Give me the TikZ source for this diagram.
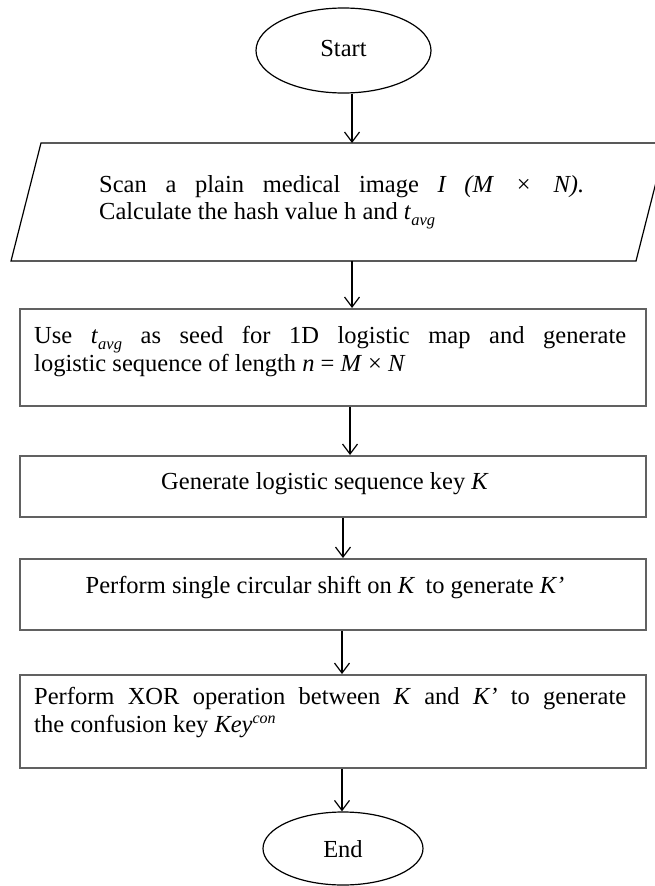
\documentclass[tikz,border=0pt]{standalone}
\usepackage{fontspec}
\setmainfont{Liberation Serif}
\usetikzlibrary{arrows.meta,shapes.geometric,calc}
\newcommand{\tavg}{\textit{t}\raisebox{-0.28em}{\fontsize{16.5}{16.5}\selectfont\textit{avg}}}
\newcommand{\keycon}{\textit{Key}\raisebox{0.36em}{\fontsize{16}{16}\selectfont\textit{con}}}
\tikzset{
  line/.style={draw=black,line width=1.2pt},
  boxline/.style={draw=black!62,line width=1.8pt},
  term/.style={ellipse,line,inner sep=0pt},
  procbox/.style={rectangle,boxline,inner sep=0pt,minimum width=626pt,anchor=north},
  txt/.style={inner sep=0pt,font=\fontsize{24.5}{27}\selectfont},
  para/.style={txt,text width=592pt,align=justify},
  arr/.style={line width=1.2pt,-{Straight Barb[length=10pt,width=15pt,line width=1.2pt]}},
}
\begin{document}
\begin{tikzpicture}[x=1pt,y=-1pt]
\useasboundingbox (0,0) rectangle (654,886);
% Start
\node[term,minimum width=175pt,minimum height=85pt] (start) at (343.5,50.5) {};
\node[txt,anchor=base] (starttxt) at (343.5,56) {Start};
% input parallelogram
\coordinate (inNW) at (41,143);
\coordinate (inNE) at (666,143);
\coordinate (inSE) at (636,261);
\coordinate (inSW) at (11,261);
\draw[line] (inNW) -- (inNE) -- (inSE) -- (inSW) -- cycle;
\node[txt,text width=485pt,align=justify,anchor=base west] (intxt) at (99,192)
  {Scan a plain medical image \textit{I (M} \,×\, \textit{N).}\linebreak Calculate the hash value h and \tavg};
% box 2
\node[procbox,minimum height=97pt] (b2) at (333,308) {};
\node[para,anchor=base west] (b2txt) at (34,343)
  {Use \tavg\ as seed for 1D logistic map and generate\linebreak logistic sequence of length \textit{n} = \textit{M} × \textit{N}};
% box 3
\node[procbox,minimum height=61pt] (b3) at (333,455) {};
\node[txt,anchor=base] (b3txt) at (325,489) {Generate logistic sequence key \textit{K}};
% box 4
\node[procbox,minimum height=71pt] (b4) at (333,558) {};
\node[txt,anchor=base] (b4txt) at (325,593) {Perform single circular shift on \textit{K}\, to generate \textit{K’}};
% box 5
\node[procbox,minimum height=93pt] (b5) at (333,674) {};
\node[para,anchor=base west,font=\fontsize{24.5}{28}\selectfont] (b5txt) at (34,704)
  {Perform XOR operation between \textit{K} and \textit{K’} to generate\linebreak the confusion key \keycon};
% End
\node[term,minimum width=160pt,minimum height=73pt] (end) at (343,848.5) {};
\node[txt,anchor=base] (endtxt) at (343,857) {End};
% arrows
\draw[arr] (start.south -| 352,0) -- (inNW -| 352,0);
\draw[arr] (inSW -| 352,0) -- (b2.north -| 352,0);
\draw[arr] (b2.south -| 350,0) -- (b3.north -| 350,0);
\draw[arr] (b3.south -| 343,0) -- (b4.north -| 343,0);
\draw[arr] (b4.south -| 342,0) -- (b5.north -| 342,0);
\draw[arr] (b5.south -| 342,0) -- (end.north -| 342,0);
\end{tikzpicture}
\end{document}
